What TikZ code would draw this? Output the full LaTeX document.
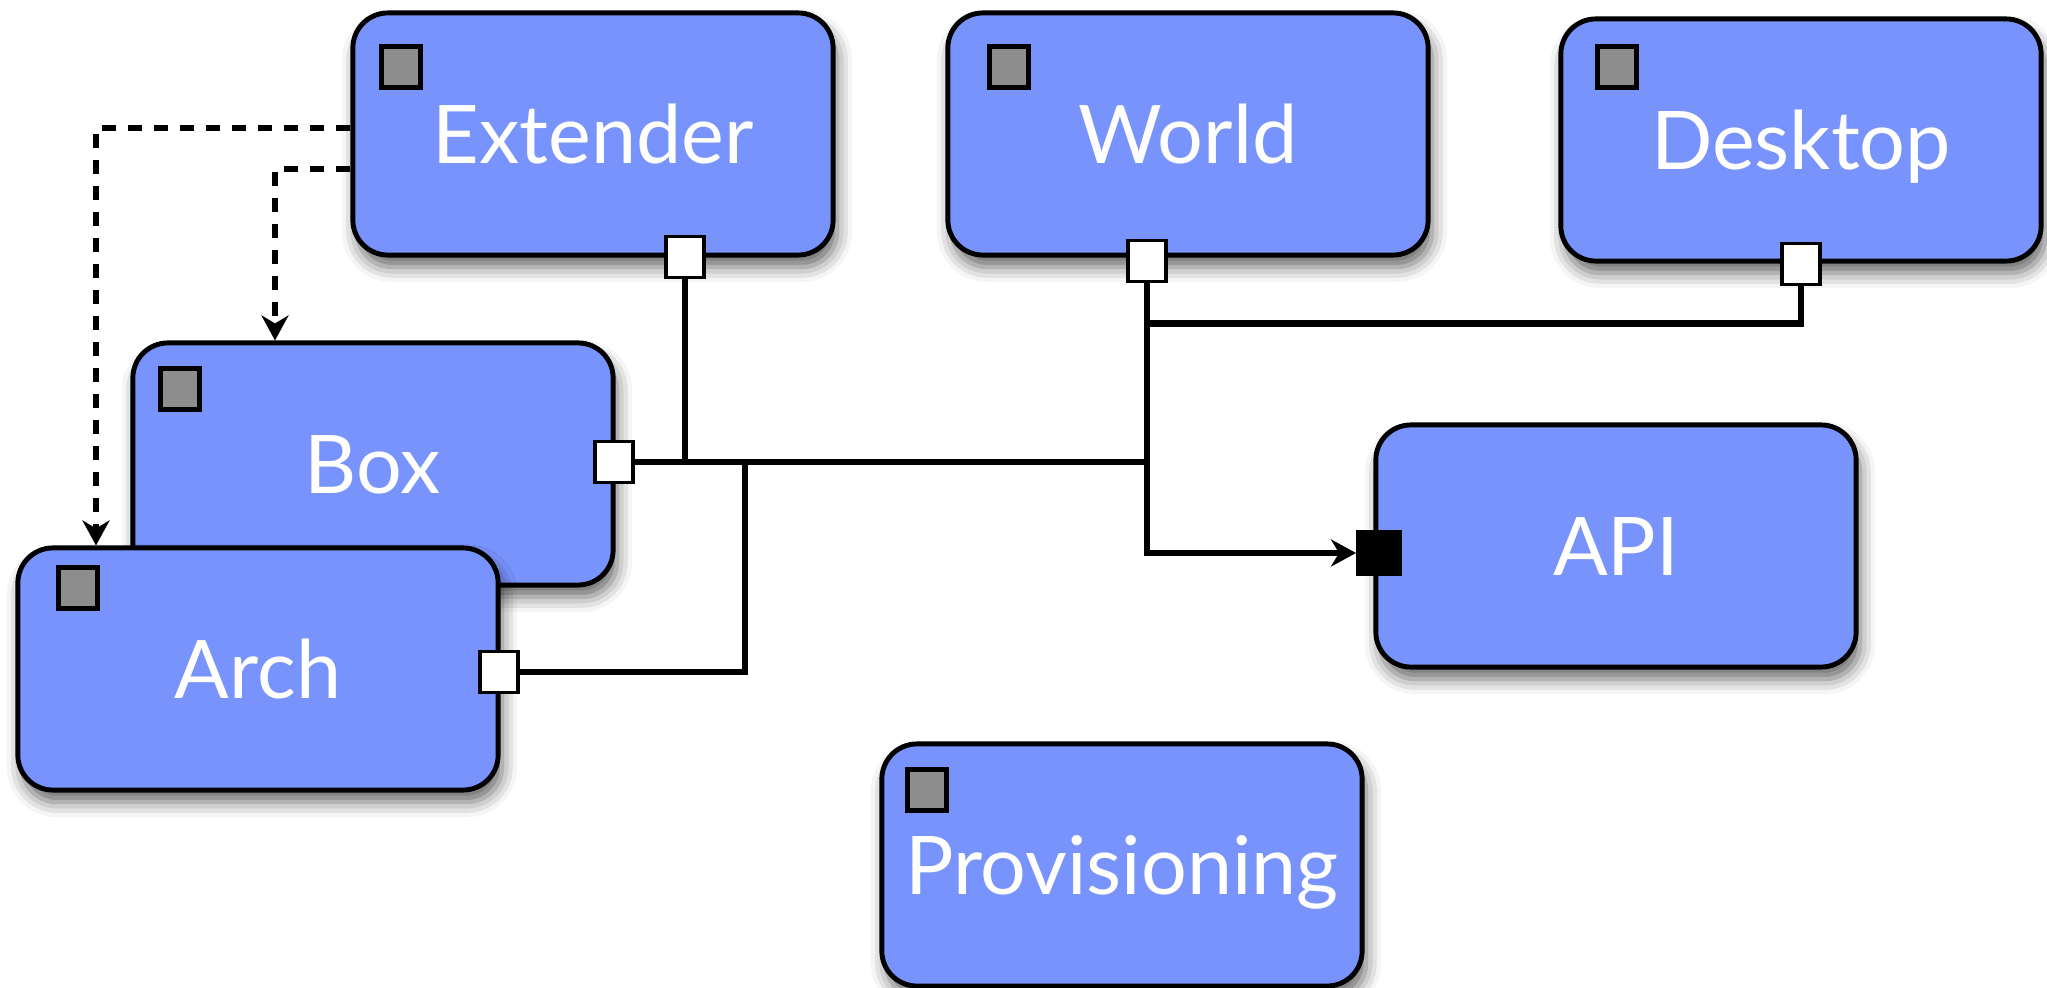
\documentclass[tikz,border=0pt]{standalone}
\usepackage{fontspec}
\setmainfont{Lato}
\usetikzlibrary{arrows.meta,shadows.blur}
\definecolor{modblue}{RGB}{121,147,252}
\definecolor{gripgray}{RGB}{141,141,141}
\tikzset{
  module/.style={draw, line width=1.4pt, fill=modblue, rounded corners=0.35cm,
    minimum width=4.8cm, minimum height=2.42cm, inner sep=0pt, text=white,
    font=\fontsize{23}{27}\selectfont, text height=0.58cm, text depth=0pt,
    blur shadow={shadow xshift=0.04cm, shadow yshift=-0.12cm, shadow blur radius=0.15cm, shadow opacity=60}},
  grip/.style={draw, line width=1.3pt, fill=gripgray, minimum width=0.39cm, minimum height=0.41cm, inner sep=0pt},
  port/.style={draw, line width=1.1pt, fill=white, minimum width=0.38cm, minimum height=0.41cm, inner sep=0pt},
  wire/.style={line width=1.8pt},
  tip/.style={-{Stealth[length=0.25cm,width=0.27cm,inset=0.08cm]}},
  dep/.style={wire, tip, dash pattern=on 4pt off 3.4pt},
}
\begin{document}
\begin{tikzpicture}[x=0.01cm, y=-0.01cm]
\useasboundingbox (0,0) rectangle (2047,988);
% modules
\node[module] (extender) at (593,134) {Extender};
\node[module] (world) at (1188,134) {World};
\node[module] (desktop) at (1801,140) {Desktop};
\node[module] (box) at (373,464) {Box};
\node[module] (arch) at (258,669) {Arch};
\node[module] (api) at (1616,546) {API};
\node[module] (prov) at (1122,865) {Provisioning};
% grips
\node[grip] (extgrip) at (401,67) {};
\node[grip] (worldgrip) at (1009,67) {};
\node[grip] (deskgrip) at (1617,67) {};
\node[grip] (boxgrip) at (180,389) {};
\node[grip] (archgrip) at (78,588) {};
\node[grip] (provgrip) at (927,790) {};
% rails for the dashed links
\coordinate (leftrail) at (96,0);
\coordinate (innerrail) at (275,0);
% ports
\node[port] (extout) at (685,257) {};
\node[port] (worldout) at (1147,261) {};
\node[port] (deskout) at (1801,264) {};
\node[port] (boxout) at (614,462) {};
\node[port] (archout) at (499,672) {};
\node[port, fill=black, minimum width=0.42cm, minimum height=0.42cm] (apiin) at (1379,553) {};
% links
\draw[wire] (extout.south) -- (extout.south |- boxout.east);
\draw[wire] (boxout.east) -- (boxout.east -| worldout.south);
\draw[wire] (deskout.south) |- ([yshift=-0.4cm]worldout.south);
\draw[wire] (archout.east) -| ([xshift=1.1cm]boxout.east);
\draw[wire, tip] (worldout.south) |- (apiin.west);
\draw[dep] ([yshift=0.06cm]extender.west) -| (arch.north -| leftrail);
\draw[dep] ([yshift=-0.35cm]extender.west) -| (box.north -| innerrail);
\end{tikzpicture}
\end{document}
